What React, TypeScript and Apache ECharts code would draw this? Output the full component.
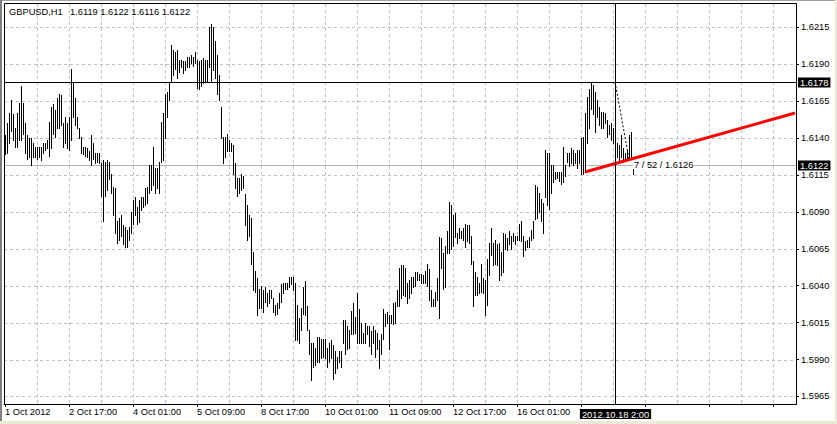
import React, { useEffect, useRef } from 'react';
import * as echarts from 'echarts';

// ---------- data ----------
const symbolTitle = 'GBPUSD,H1';
const lastQuote = ['1.6119', '1.6122', '1.6116', '1.6122'];

const tickLabels = ['1 Oct 2012', '2 Oct 17:00', '4 Oct 01:00', '5 Oct 09:00', '8 Oct 17:00', '10 Oct 01:00', '11 Oct 09:00', '12 Oct 17:00', '16 Oct 01:00'];
const barsPerLabel = 32;
const barsPerGridLine = 16;
const totalSlots = 396;

const priceTicks = [1.5965, 1.599, 1.6015, 1.604, 1.6065, 1.609, 1.6115, 1.614, 1.6165, 1.619, 1.6215];
const priceMin = 1.5959851;
const priceMax = 1.6230854;

const highs = [
  1.6142, 1.6150, 1.6157, 1.6166, 1.6156, 1.6147, 1.6157, 1.6164, 1.6175, 1.6164,
  1.6150, 1.6142, 1.6140, 1.6140, 1.6137, 1.6134, 1.6134, 1.6134, 1.6134, 1.6137,
  1.6137, 1.6139, 1.6151, 1.6161, 1.6163, 1.6159, 1.6167, 1.6170, 1.6169, 1.6150,
  1.6154, 1.6150, 1.6154, 1.6187, 1.6178, 1.6167, 1.6154, 1.6147, 1.6141, 1.6134,
  1.6134, 1.6133, 1.6131, 1.6142, 1.6137, 1.6130, 1.6130, 1.6130, 1.6123, 1.6125,
  1.6124, 1.6125, 1.6124, 1.6116, 1.6107, 1.6106, 1.6084, 1.6086, 1.6088, 1.6081,
  1.6080, 1.6078, 1.6080, 1.6090, 1.6098, 1.6100, 1.6093, 1.6098, 1.6100, 1.6100,
  1.6106, 1.6107, 1.6122, 1.6122, 1.6134, 1.6120, 1.6120, 1.6124, 1.6151, 1.6157,
  1.6170, 1.6171, 1.6178, 1.6203, 1.6200, 1.6198, 1.6200, 1.6193, 1.6193, 1.6192,
  1.6192, 1.6195, 1.6195, 1.6196, 1.6195, 1.6198, 1.6193, 1.6192, 1.6193, 1.6194,
  1.6193, 1.6193, 1.6215, 1.6217, 1.6215, 1.6206, 1.6196, 1.6183, 1.6161, 1.6141,
  1.6141, 1.6143, 1.6139, 1.6137, 1.6135, 1.6123, 1.6113, 1.6113, 1.6116, 1.6114,
  1.6102, 1.6095, 1.6088, 1.6086, 1.6063, 1.6050, 1.6045, 1.6038, 1.6040, 1.6037,
  1.6039, 1.6035, 1.6037, 1.6037, 1.6032, 1.6027, 1.6028, 1.6035, 1.6041, 1.6042,
  1.6042, 1.6042, 1.6046, 1.6046, 1.6046, 1.6042, 1.6027, 1.6018, 1.6025, 1.6039,
  1.6043, 1.6026, 1.6010, 1.6001, 1.6001, 1.5998, 1.6005, 1.6005, 1.6004, 1.6004,
  1.6004, 1.5998, 1.6001, 1.6003, 1.6000, 1.5996, 1.5992, 1.5996, 1.5996, 1.6017,
  1.6017, 1.6013, 1.6010, 1.6023, 1.6028, 1.6019, 1.6035, 1.6024, 1.6015, 1.6008,
  1.6015, 1.6013, 1.6013, 1.6009, 1.6013, 1.6010, 1.6008, 1.6003, 1.6007, 1.6024,
  1.6021, 1.6022, 1.6020, 1.6020, 1.6028, 1.6029, 1.6037, 1.6052, 1.6054, 1.6054,
  1.6052, 1.6042, 1.6044, 1.6046, 1.6046, 1.6049, 1.6049, 1.6048, 1.6048, 1.6047,
  1.6050, 1.6055, 1.6051, 1.6037, 1.6031, 1.6036, 1.6045, 1.6073, 1.6072, 1.6062,
  1.6067, 1.6077, 1.6097, 1.6095, 1.6088, 1.6089, 1.6076, 1.6079, 1.6077, 1.6079,
  1.6082, 1.6081, 1.6081, 1.6074, 1.6057, 1.6049, 1.6046, 1.6042, 1.6055, 1.6045,
  1.6044, 1.6058, 1.6069, 1.6079, 1.6069, 1.6071, 1.6068, 1.6069, 1.6063, 1.6076,
  1.6075, 1.6072, 1.6077, 1.6074, 1.6076, 1.6074, 1.6074, 1.6082, 1.6084, 1.6074,
  1.6070, 1.6071, 1.6073, 1.6078, 1.6084, 1.6108, 1.6107, 1.6103, 1.6099, 1.6096,
  1.6132, 1.6130, 1.6130, 1.6122, 1.6122, 1.6117, 1.6117, 1.6117, 1.6117, 1.6134,
  1.6122, 1.6130, 1.6130, 1.6133, 1.6132, 1.6130, 1.6132, 1.6132, 1.6140, 1.6141,
  1.6157, 1.6168, 1.6173, 1.6178, 1.6176, 1.6171, 1.6166, 1.6161, 1.6158, 1.6158,
  1.6157, 1.6152, 1.6149, 1.6150, 1.6147, 1.6137, 1.6137, 1.6135, 1.6142, 1.6133,
  1.6130, 1.6132, 1.6142, 1.6144, 1.6122,
];

const lows = [
  1.6129, 1.6130, 1.6137, 1.6145, 1.6139, 1.6134, 1.6134, 1.6139, 1.6139, 1.6143,
  1.6130, 1.6126, 1.6127, 1.6122, 1.6127, 1.6127, 1.6126, 1.6127, 1.6125, 1.6130,
  1.6132, 1.6133, 1.6128, 1.6133, 1.6143, 1.6141, 1.6147, 1.6147, 1.6149, 1.6134,
  1.6137, 1.6133, 1.6132, 1.6139, 1.6154, 1.6149, 1.6147, 1.6140, 1.6130, 1.6129,
  1.6128, 1.6127, 1.6125, 1.6122, 1.6126, 1.6123, 1.6124, 1.6123, 1.6101, 1.6084,
  1.6101, 1.6105, 1.6112, 1.6103, 1.6088, 1.6076, 1.6069, 1.6071, 1.6074, 1.6068,
  1.6066, 1.6066, 1.6071, 1.6076, 1.6082, 1.6088, 1.6082, 1.6083, 1.6091, 1.6093,
  1.6095, 1.6096, 1.6103, 1.6105, 1.6108, 1.6103, 1.6106, 1.6103, 1.6124, 1.6125,
  1.6140, 1.6154, 1.6166, 1.6179, 1.6183, 1.6187, 1.6181, 1.6185, 1.6188, 1.6184,
  1.6186, 1.6188, 1.6188, 1.6191, 1.6189, 1.6191, 1.6174, 1.6173, 1.6175, 1.6177,
  1.6179, 1.6179, 1.6188, 1.6179, 1.6186, 1.6181, 1.6170, 1.6166, 1.6140, 1.6123,
  1.6127, 1.6131, 1.6131, 1.6131, 1.6116, 1.6106, 1.6101, 1.6103, 1.6105, 1.6106,
  1.6081, 1.6071, 1.6074, 1.6055, 1.6037, 1.6036, 1.6020, 1.6025, 1.6025, 1.6022,
  1.6029, 1.6026, 1.6028, 1.6032, 1.6022, 1.6020, 1.6021, 1.6025, 1.6029, 1.6035,
  1.6038, 1.6038, 1.6039, 1.6041, 1.6037, 1.6003, 1.6003, 1.6001, 1.6010, 1.6021,
  1.6020, 1.6010, 1.5994, 1.5976, 1.5985, 1.5986, 1.5988, 1.5988, 1.5991, 1.5992,
  1.5991, 1.5985, 1.5988, 1.5991, 1.5977, 1.5981, 1.5984, 1.5988, 1.5985, 1.6001,
  1.5994, 1.5997, 1.5998, 1.6007, 1.6007, 1.6008, 1.6001, 1.6001, 1.6001, 1.6001,
  1.6001, 1.6007, 1.5999, 1.5994, 1.6001, 1.5992, 1.5997, 1.5984, 1.5994, 1.6004,
  1.6013, 1.6015, 1.5997, 1.6015, 1.6014, 1.6015, 1.6026, 1.6026, 1.6032, 1.6034,
  1.6033, 1.6028, 1.6032, 1.6035, 1.6039, 1.6040, 1.6044, 1.6044, 1.6042, 1.6042,
  1.6042, 1.6040, 1.6030, 1.6026, 1.6026, 1.6026, 1.6030, 1.6018, 1.6052, 1.6038,
  1.6039, 1.6062, 1.6062, 1.6065, 1.6067, 1.6073, 1.6069, 1.6072, 1.6072, 1.6071,
  1.6066, 1.6070, 1.6069, 1.6055, 1.6026, 1.6034, 1.6034, 1.6035, 1.6036, 1.6035,
  1.6020, 1.6027, 1.6047, 1.6061, 1.6054, 1.6055, 1.6054, 1.6044, 1.6047, 1.6049,
  1.6065, 1.6064, 1.6068, 1.6065, 1.6070, 1.6068, 1.6071, 1.6071, 1.6070, 1.6060,
  1.6064, 1.6066, 1.6066, 1.6071, 1.6072, 1.6085, 1.6086, 1.6090, 1.6084, 1.6076,
  1.6100, 1.6095, 1.6092, 1.6103, 1.6110, 1.6112, 1.6113, 1.6111, 1.6109, 1.6110,
  1.6114, 1.6124, 1.6121, 1.6123, 1.6122, 1.6123, 1.6120, 1.6123, 1.6116, 1.6116,
  1.6117, 1.6137, 1.6147, 1.6160, 1.6156, 1.6144, 1.6154, 1.6149, 1.6147, 1.6147,
  1.6150, 1.6141, 1.6143, 1.6139, 1.6137, 1.6127, 1.6127, 1.6125, 1.6127, 1.6125,
  1.6125, 1.6126, 1.6126, 1.6127, 1.6116,
];

const bidPrice = 1.6122;
const crossBar = 305;
const crossPrice = 1.6178;
const crossTime = '2012.10.18 2:00';
const trendLine = [[290, 1.6117], [395, 1.6157]];
const measureLine = [[305, 1.6178], [312, 1.6126]];
const measureText = '7 / 52 / 1.6126';

// ---------- styles ----------
const FONT_FAMILY = '"Liberation Sans", Arial, sans-serif';
const FONT_SIZE = 9.3;
const FONT = `${FONT_SIZE}px ${FONT_FAMILY}`;
const GRID_COLOR = '#c0c0c0';

const boxText = (text: string, x: number, y: number, align: string, vAlign: string) => ({
  type: 'text',
  style: {
    text, x, y,
    font: FONT,
    fill: '#ffffff',
    backgroundColor: '#000000',
    padding: [1, 2, 0, 2],
    lineHeight: 9,
    align, verticalAlign: vAlign,
    textAlign: align, textVerticalAlign: vAlign,
  },
});

const crisp = (v: number) => Math.round(v) + 0.5;

export default function App() {
  const ref = useRef<HTMLDivElement>(null);

  useEffect(() => {
    if (!ref.current) return;
    const chart = echarts.init(ref.current, undefined, { renderer: 'svg' });
    const slots = Array.from({ length: totalSlots }, (_, i) => String(i));
    const vGrid: number[][] = [];
    for (let i = barsPerGridLine; i < totalSlots; i += barsPerGridLine) vGrid.push([i, priceMin]);

    const option: any = {
      animation: false,
      backgroundColor: '#ffffff',
      grid: { left: 4, top: 4, width: 792, height: 400, containLabel: false },
      xAxis: {
        type: 'category',
        data: slots,
        boundaryGap: true,
        axisLine: { show: true, lineStyle: { color: '#000', width: 1 } },
        axisTick: { show: true, interval: barsPerLabel - 1, alignWithLabel: true, length: 3, lineStyle: { color: '#000' } },
        axisLabel: {
          interval: barsPerLabel - 1,
          formatter: (v: string) => {
            const i = Number(v);
            return i % barsPerLabel === 0 && tickLabels[i / barsPerLabel] ? tickLabels[i / barsPerLabel] : '';
          },
          align: 'left',
          margin: 3,
          color: '#000',
          fontSize: FONT_SIZE,
          fontFamily: FONT_FAMILY,
        },
        splitLine: { show: false },
      },
      yAxis: {
        type: 'value',
        position: 'right',
        min: priceMin,
        max: priceMax,
        axisLine: { show: true, lineStyle: { color: '#000', width: 1 } },
        axisTick: { show: true, length: 3, customValues: priceTicks, lineStyle: { color: '#000' } },
        axisLabel: {
          customValues: priceTicks,
          formatter: (v: number) => v.toFixed(4),
          margin: 5,
          color: '#000',
          fontSize: FONT_SIZE,
          fontFamily: FONT_FAMILY,
        },
        splitLine: { show: false },
      },
      graphic: [
        { type: 'rect', shape: { x: 0, y: 0, width: 837, height: 1 }, style: { fill: '#a0a0a0' }, silent: true },
        { type: 'rect', shape: { x: 0, y: 0, width: 2, height: 424 }, style: { fill: '#808080' }, silent: true },
        { type: 'rect', shape: { x: 0, y: 421, width: 837, height: 3 }, style: { fill: '#ece9d8' }, silent: true },
        { type: 'rect', shape: { x: 835, y: 0, width: 2, height: 424 }, style: { fill: '#ece9d8' }, silent: true },
        { type: 'rect', shape: { x: 4.5, y: 3.5, width: 792, height: 401 }, style: { fill: null, stroke: '#000', lineWidth: 1 }, silent: true, z: 100 },
        { type: 'text', left: 9, top: 7, style: { text: symbolTitle, font: FONT, fill: '#000' }, z: 100 },
        { type: 'text', left: 70, top: 7, style: { text: lastQuote.join(' '), font: FONT, fill: '#000' }, z: 100 },
      ],
      series: [
        {
          name: 'vgrid', type: 'custom', z: 0, silent: true,
          data: vGrid, encode: { x: 0, y: 1 },
          renderItem: (params: any, api: any) => {
            const cs = params.coordSys;
            const x = crisp(api.coord([api.value(0), priceMin])[0]);
            return { type: 'line', shape: { x1: x, y1: cs.y, x2: x, y2: cs.y + cs.height }, style: { stroke: GRID_COLOR, lineWidth: 1, lineDash: [3, 3] } };
          },
        },
        {
          name: 'hgrid', type: 'custom', z: 0, silent: true,
          data: priceTicks.map((p) => [0, p]), encode: { x: 0, y: 1 },
          renderItem: (params: any, api: any) => {
            const cs = params.coordSys;
            const y = crisp(api.coord([0, api.value(1)])[1]);
            return { type: 'line', shape: { x1: cs.x, y1: y, x2: cs.x + cs.width, y2: y }, style: { stroke: GRID_COLOR, lineWidth: 1, lineDash: [3, 3] } };
          },
        },
        {
          name: 'bid', type: 'custom', z: 1, silent: true, clip: false,
          data: [[0, bidPrice]], encode: { x: 0, y: 1 },
          renderItem: (params: any, api: any) => {
            const cs = params.coordSys;
            const y = crisp(api.coord([0, api.value(1)])[1]);
            return {
              type: 'group',
              children: [
                { type: 'line', shape: { x1: cs.x, y1: y, x2: cs.x + cs.width, y2: y }, style: { stroke: '#b4b4b4', lineWidth: 1 } },
                boxText(bidPrice.toFixed(4), cs.x + cs.width + 2, y, 'left', 'middle'),
              ],
            };
          },
        },
        {
          name: 'GBPUSD', type: 'custom', z: 2, silent: true,
          data: highs.map((h, i) => [i, h, lows[i]]),
          encode: { x: 0, y: [1, 2] },
          renderItem: (params: any, api: any) => {
            const i = api.value(0);
            const top = api.coord([i, api.value(1)]);
            const bot = api.coord([i, api.value(2)]);
            const x = crisp(top[0]);
            return { type: 'line', shape: { x1: x, y1: Math.round(top[1]), x2: x, y2: Math.round(bot[1]) + 1 }, style: { stroke: '#000', lineWidth: 1 } };
          },
        },
        {
          name: 'trend', type: 'line', z: 3, silent: true,
          data: trendLine, symbol: 'none',
          lineStyle: { color: '#ff0000', width: 3 },
        },
        {
          name: 'crosshair', type: 'custom', z: 4, silent: true, clip: false,
          data: [[crossBar, crossPrice]], encode: { x: 0, y: 1 },
          renderItem: (params: any, api: any) => {
            const cs = params.coordSys;
            const p = api.coord([api.value(0), api.value(1)]);
            const x = crisp(p[0]);
            const y = crisp(p[1]);
            const right = cs.x + cs.width;
            const bottom = cs.y + cs.height;
            return {
              type: 'group',
              children: [
                { type: 'line', shape: { x1: cs.x, y1: y, x2: right, y2: y }, style: { stroke: '#000', lineWidth: 1 } },
                { type: 'line', shape: { x1: x, y1: cs.y, x2: x, y2: bottom }, style: { stroke: '#000', lineWidth: 1 } },
                boxText(crossPrice.toFixed(4), right + 2, y, 'left', 'middle'),
                boxText(crossTime, x, bottom + 5, 'center', 'top'),
              ],
            };
          },
        },
        {
          name: 'measure', type: 'line', z: 5, silent: true,
          data: measureLine, symbol: 'none',
          lineStyle: { color: '#000', width: 1, type: [2, 2] },
          endLabel: {
            show: true,
            formatter: () => measureText,
            distance: 4,
            offset: [0, 6],
            color: '#000',
            fontSize: FONT_SIZE,
            fontFamily: FONT_FAMILY,
            backgroundColor: '#ffffff',
            padding: [0, 1, 0, 1],
          },
        },
      ],
    };
    chart.setOption(option);
    return () => chart.dispose();
  }, []);

  return (
    <div
      ref={ref}
      style={{ position: 'absolute', left: 0, top: 0, width: 837, height: 424, background: '#fff' }}
    />
  );
}
